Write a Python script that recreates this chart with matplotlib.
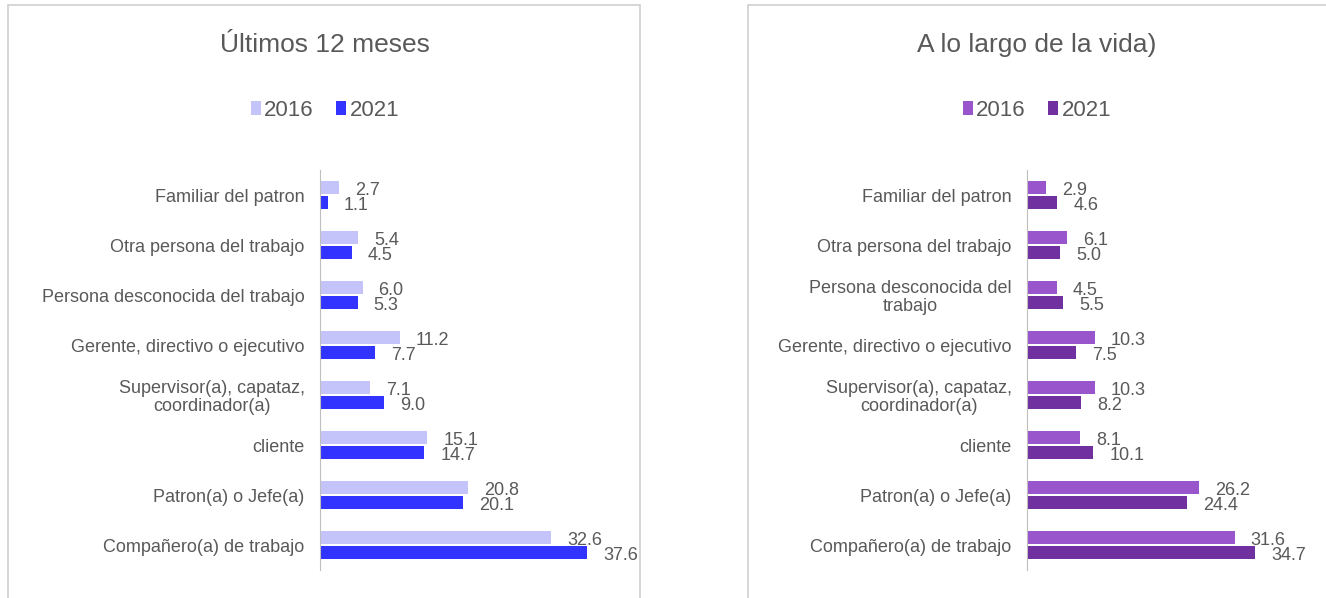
import numpy as np
import matplotlib
matplotlib.use("Agg")
import matplotlib.pyplot as plt
from matplotlib.patches import Rectangle

plt.rcParams['font.family'] = ['Liberation Sans', 'DejaVu Sans']

# categories listed top to bottom as in the chart
cats_left = ["Familiar del patron", "Otra persona del trabajo",
             "Persona desconocida del trabajo", "Gerente, directivo o ejecutivo",
             "Supervisor(a), capataz,\ncoordinador(a)", "cliente",
             "Patron(a) o Jefe(a)", "Compañero(a) de trabajo"]
cats_right = ["Familiar del patron", "Otra persona del trabajo",
              "Persona desconocida del\ntrabajo", "Gerente, directivo o ejecutivo",
              "Supervisor(a), capataz,\ncoordinador(a)", "cliente",
              "Patron(a) o Jefe(a)", "Compañero(a) de trabajo"]

left_2016 = [2.7, 5.4, 6.0, 11.2, 7.1, 15.1, 20.8, 32.6]
left_2021 = [1.1, 4.5, 5.3, 7.7, 9.0, 14.7, 20.1, 37.6]
right_2016 = [2.9, 6.1, 4.5, 10.3, 10.3, 8.1, 26.2, 31.6]
right_2021 = [4.6, 5.0, 5.5, 7.5, 8.2, 10.1, 24.4, 34.7]

title_left = "Últimos 12 meses"
title_right = "A lo largo de la vida)"
years = ["2016", "2021"]

W, H = 1326, 598
fig = plt.figure(figsize=(W / 100, H / 100), dpi=100)
grey = "#595959"


def fx(px):
    return px / W


def fy(py):
    return 1 - py / H


# panel borders
for x0, x1 in [(8, 640), (748, 1340)]:
    fig.patches.append(Rectangle((fx(x0), fy(620)), fx(x1 - x0), (620 - 5) / H,
                                 transform=fig.transFigure, fill=False,
                                 edgecolor="#D0D0D0", linewidth=1.2))


def panel(ax_left, ax_width, scale, cats, v16, v21, colors, title, cx):
    ax = fig.add_axes([fx(ax_left), fy(570), fx(ax_width), 400 / H])
    n = len(cats)
    y = np.arange(n)[::-1]
    h = 0.26
    b1 = ax.barh(y + 0.15, v16, height=h, color=colors[0], label=years[0])
    b2 = ax.barh(y - 0.15, v21, height=h, color=colors[1], label=years[1])
    ax.set_xlim(0, ax_width / scale)
    ax.set_ylim(-0.5, n - 0.5)
    ax.set_yticks(y)
    ax.set_yticklabels(cats, fontsize=13, color=grey, multialignment="center",
                       linespacing=1.1)
    ax.tick_params(axis="y", length=0, pad=11)
    ax.set_xticks([])
    for s in ["top", "right", "bottom"]:
        ax.spines[s].set_visible(False)
    ax.spines["left"].set_color("#BFBFBF")
    for bars, vals in [(b1, v16), (b2, v21)]:
        for r, v in zip(bars, vals):
            ax.annotate(f"{v:.1f}", (r.get_width(), r.get_y() + r.get_height() / 2),
                        xytext=(16, -3), textcoords="offset pixels",
                        ha="left", va="center", fontsize=13, color=grey)
    fig.text(fx(cx), fy(45), title, ha="center", va="center", fontsize=19, color=grey)
    fig.legend(handles=[b1, b2], loc="center", bbox_to_anchor=(fx(cx), fy(110)),
               ncol=2, frameon=False, fontsize=16, handlelength=0.45,
               handleheight=0.6, handletextpad=0.15, columnspacing=1.0,
               labelcolor=grey)
    return ax


panel(320, 280, 7.1, cats_left, left_2016, left_2021,
      ["#C4C4FA", "#3333FF"], title_left, 325)
panel(1027, 270, 6.57, cats_right, right_2016, right_2021,
      ["#9955CC", "#7030A0"], title_right, 1037)

fig.savefig("out.png", dpi=100)
